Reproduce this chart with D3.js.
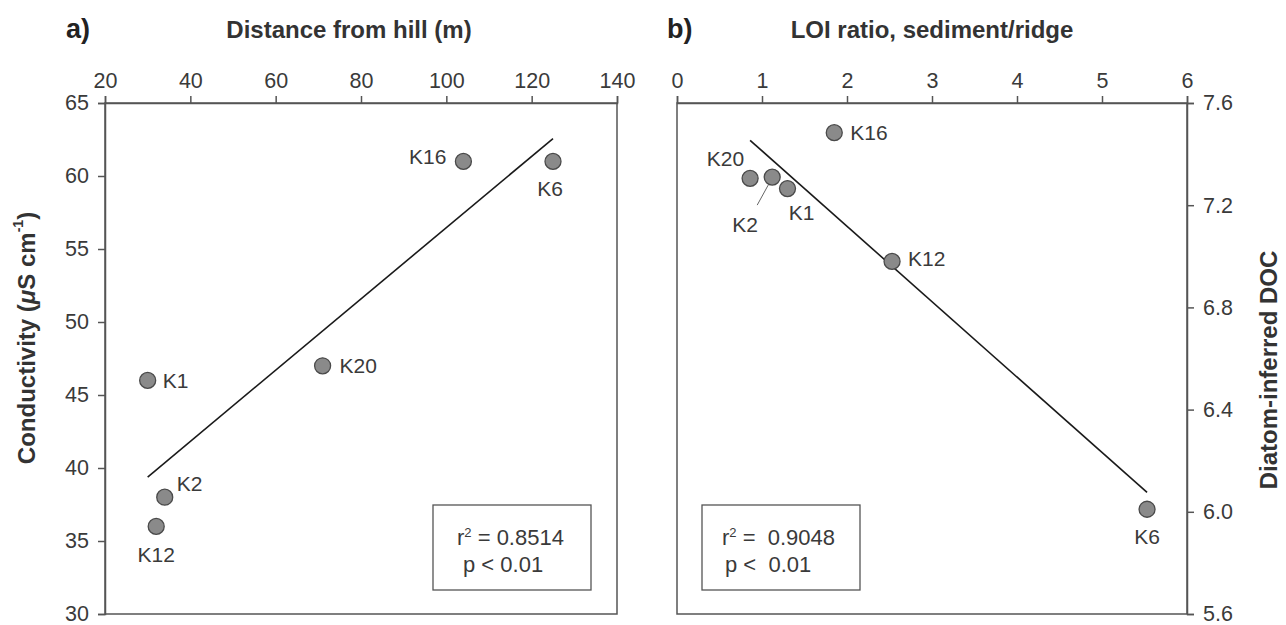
<!DOCTYPE html>
<html><head><meta charset="utf-8">
<script src="https://cdn.jsdelivr.net/npm/d3@7"></script>
<style>body{margin:0;background:#fff}svg{font-family:"Liberation Sans",Arial,sans-serif}</style>
</head><body><svg id="c" width="1286" height="625"></svg>
<script>
// Panel a data
const sitesA = ["K1","K2","K12","K20","K16","K6"];
const distance = [30, 34, 32, 71, 104, 125];
const conductivity = [46, 38, 36, 47, 61, 61];
const xTicksA = [20,40,60,80,100,120,140];
const yTicksA = [30,35,40,45,50,55,60,65];
// Panel b data
const sitesB = ["K20","K2","K1","K16","K12","K6"];
const loiRatio = [0.86, 1.12, 1.30, 1.85, 2.53, 5.53];
const doc = [7.305, 7.31, 7.265, 7.484, 6.98, 6.01];
const xTicksB = [0,1,2,3,4,5,6];
const yTicksB = [5.6,6.0,6.4,6.8,7.2,7.6];
const statsA = ["0.8514","0.01"];
const statsB = ["0.9048","0.01"];

const svg = d3.select("#c");
const plotTop = 103, plotBottom = 614;
const axisCol = "#555", textCol = "#3a3a3a";

function fit(xs, ys){
  const n = xs.length, mx = d3.mean(xs), my = d3.mean(ys);
  let sxy=0, sxx=0;
  for(let i=0;i<n;i++){sxy+=(xs[i]-mx)*(ys[i]-my); sxx+=(xs[i]-mx)**2;}
  const b = sxy/sxx; return {b, a: my-b*mx};
}

function panel(o){
  const g = svg.append("g");
  const x = d3.scaleLinear().domain(o.xd).range([o.x0, o.x1]);
  const y = d3.scaleLinear().domain(o.yd).range([plotBottom, plotTop]);
  g.append("rect").attr("x",o.x0).attr("y",plotTop).attr("width",o.x1-o.x0).attr("height",plotBottom-plotTop)
    .attr("fill","none").attr("stroke",axisCol).attr("stroke-width",1.5);
  const ax = g.append("g").attr("transform",`translate(0,${plotTop})`)
    .call(d3.axisTop(x).tickValues(o.xt).tickSize(7).tickPadding(8).tickFormat(d3.format("d")));
  const yAxis = o.right ? d3.axisRight(y) : d3.axisLeft(y);
  const ay = g.append("g").attr("transform",`translate(${o.right?o.x1:o.x0},0)`)
    .call(yAxis.tickValues(o.yt).tickSize(7).tickPadding(9).tickFormat(o.yf));
  [ax,ay].forEach(a=>{
    a.select(".domain").attr("stroke",axisCol).attr("stroke-width",1.5);
    a.selectAll(".tick line").attr("stroke",axisCol).attr("stroke-width",1.5);
    a.selectAll(".tick text").attr("fill",textCol).style("font-size","21.5px").style("font-family","'Liberation Sans',Arial,sans-serif");
  });
  const f = fit(o.xs, o.ys);
  const xe = d3.extent(o.xs);
  g.append("line").attr("x1",x(xe[0])).attr("y1",y(f.a+f.b*xe[0]))
    .attr("x2",x(xe[1])).attr("y2",y(f.a+f.b*xe[1]))
    .attr("stroke","#1a1a1a").attr("stroke-width",1.6);
  (o.leaders||[]).forEach(l=>{
    const i = o.names.indexOf(l.name);
    g.append("line").attr("x1",x(o.xs[i])+l.a[0]).attr("y1",y(o.ys[i])+l.a[1])
      .attr("x2",x(o.xs[i])+l.b[0]).attr("y2",y(o.ys[i])+l.b[1]).attr("stroke","#666").attr("stroke-width",1);
  });
  g.selectAll("circle.pt").data(o.xs).join("circle").attr("class","pt")
    .attr("cx",(d)=>x(d)).attr("cy",(d,i)=>y(o.ys[i])).attr("r",8)
    .attr("fill","#8a8a8a").attr("stroke","#4a4a4a").attr("stroke-width",1.3);
  g.selectAll("text.lab").data(o.names).join("text").attr("class","lab")
    .attr("x",(d,i)=>x(o.xs[i])+o.lab[d][0]).attr("y",(d,i)=>y(o.ys[i])+o.lab[d][1])
    .attr("text-anchor",d=>o.lab[d][2]).attr("dominant-baseline","central")
    .attr("fill",textCol).style("font-size","21px").text(d=>d);
  g.append("text").attr("x",o.letterX).attr("y",29).attr("font-weight","bold").style("font-size","27px")
    .attr("fill","#222").attr("dominant-baseline","central").text(o.letter);
  g.append("text").attr("x",o.titleX).attr("y",29).attr("text-anchor","middle").attr("dominant-baseline","central")
    .attr("font-weight","bold").style("font-size","24px").attr("fill","#333").text(o.xTitle);
  const bx = o.boxX, by = plotBottom-109, bw = 158, bh = 85;
  g.append("rect").attr("x",bx).attr("y",by).attr("width",bw).attr("height",bh)
    .attr("fill","#fff").attr("stroke","#555").attr("stroke-width",1.3);
  const t1 = g.append("text").attr("x",bx+o.tx).attr("y",by+40).attr("fill",textCol).style("font-size","22px").style("white-space","pre");
  t1.append("tspan").text("r");
  t1.append("tspan").attr("dy",-8).style("font-size","13px").text("2");
  t1.append("tspan").attr("dy",8).text(" =" + o.sp + o.st[0]);
  g.append("text").attr("x",bx+o.tx+o.px).attr("y",by+67).attr("fill",textCol).style("font-size","22px")
    .style("white-space","pre").text("p <" + o.sp + o.st[1]);
  return {x,y};
}

panel({x0:105,x1:617,xd:[20,140],yd:[30,65],xt:xTicksA,yt:yTicksA,yf:d3.format("d"),
  xs:distance,ys:conductivity,names:sitesA,letter:"a)",letterX:66,xTitle:"Distance from hill (m)",titleX:349,
  lab:{K1:[15,0,"start"],K2:[12,-14,"start"],K12:[0,28,"middle"],K20:[17,0,"start"],K16:[-17,-5,"end"],K6:[-3,27,"middle"]},
  boxX:433,tx:24,px:6,sp:" ",st:statsA});

panel({x0:677,x1:1187,xd:[0,6],yd:[5.6,7.6],xt:xTicksB,yt:yTicksB,yf:d3.format(".1f"),right:true,
  xs:loiRatio,ys:doc,names:sitesB,letter:"b)",letterX:667,xTitle:"LOI ratio, sediment/ridge",titleX:932,
  lab:{K20:[-6,-20,"end"],K2:[-27,47,"middle"],K1:[14,24,"middle"],K16:[16,0,"start"],K12:[16,-3,"start"],K6:[0,27,"middle"]},
  leaders:[{name:"K2",a:[-4,8],b:[-15,28]}],
  boxX:702,tx:20,px:3,sp:"  ",st:statsB});

svg.append("text").attr("transform",`translate(26,338) rotate(-90)`).attr("text-anchor","middle")
  .attr("dominant-baseline","central").attr("font-weight","bold").style("font-size","24px").attr("fill","#333")
  .call(t=>{t.append("tspan").text("Conductivity (");
    t.append("tspan").attr("font-style","italic").text("μ");
    t.append("tspan").text("S cm");
    t.append("tspan").attr("dy",-8).style("font-size","14px").text("-1");
    t.append("tspan").attr("dy",8).text(")");});
svg.append("text").attr("transform",`translate(1268,370) rotate(-90)`).attr("text-anchor","middle")
  .attr("dominant-baseline","central").attr("font-weight","bold").style("font-size","24px").attr("fill","#333")
  .text("Diatom-inferred DOC");
</script></body></html>
